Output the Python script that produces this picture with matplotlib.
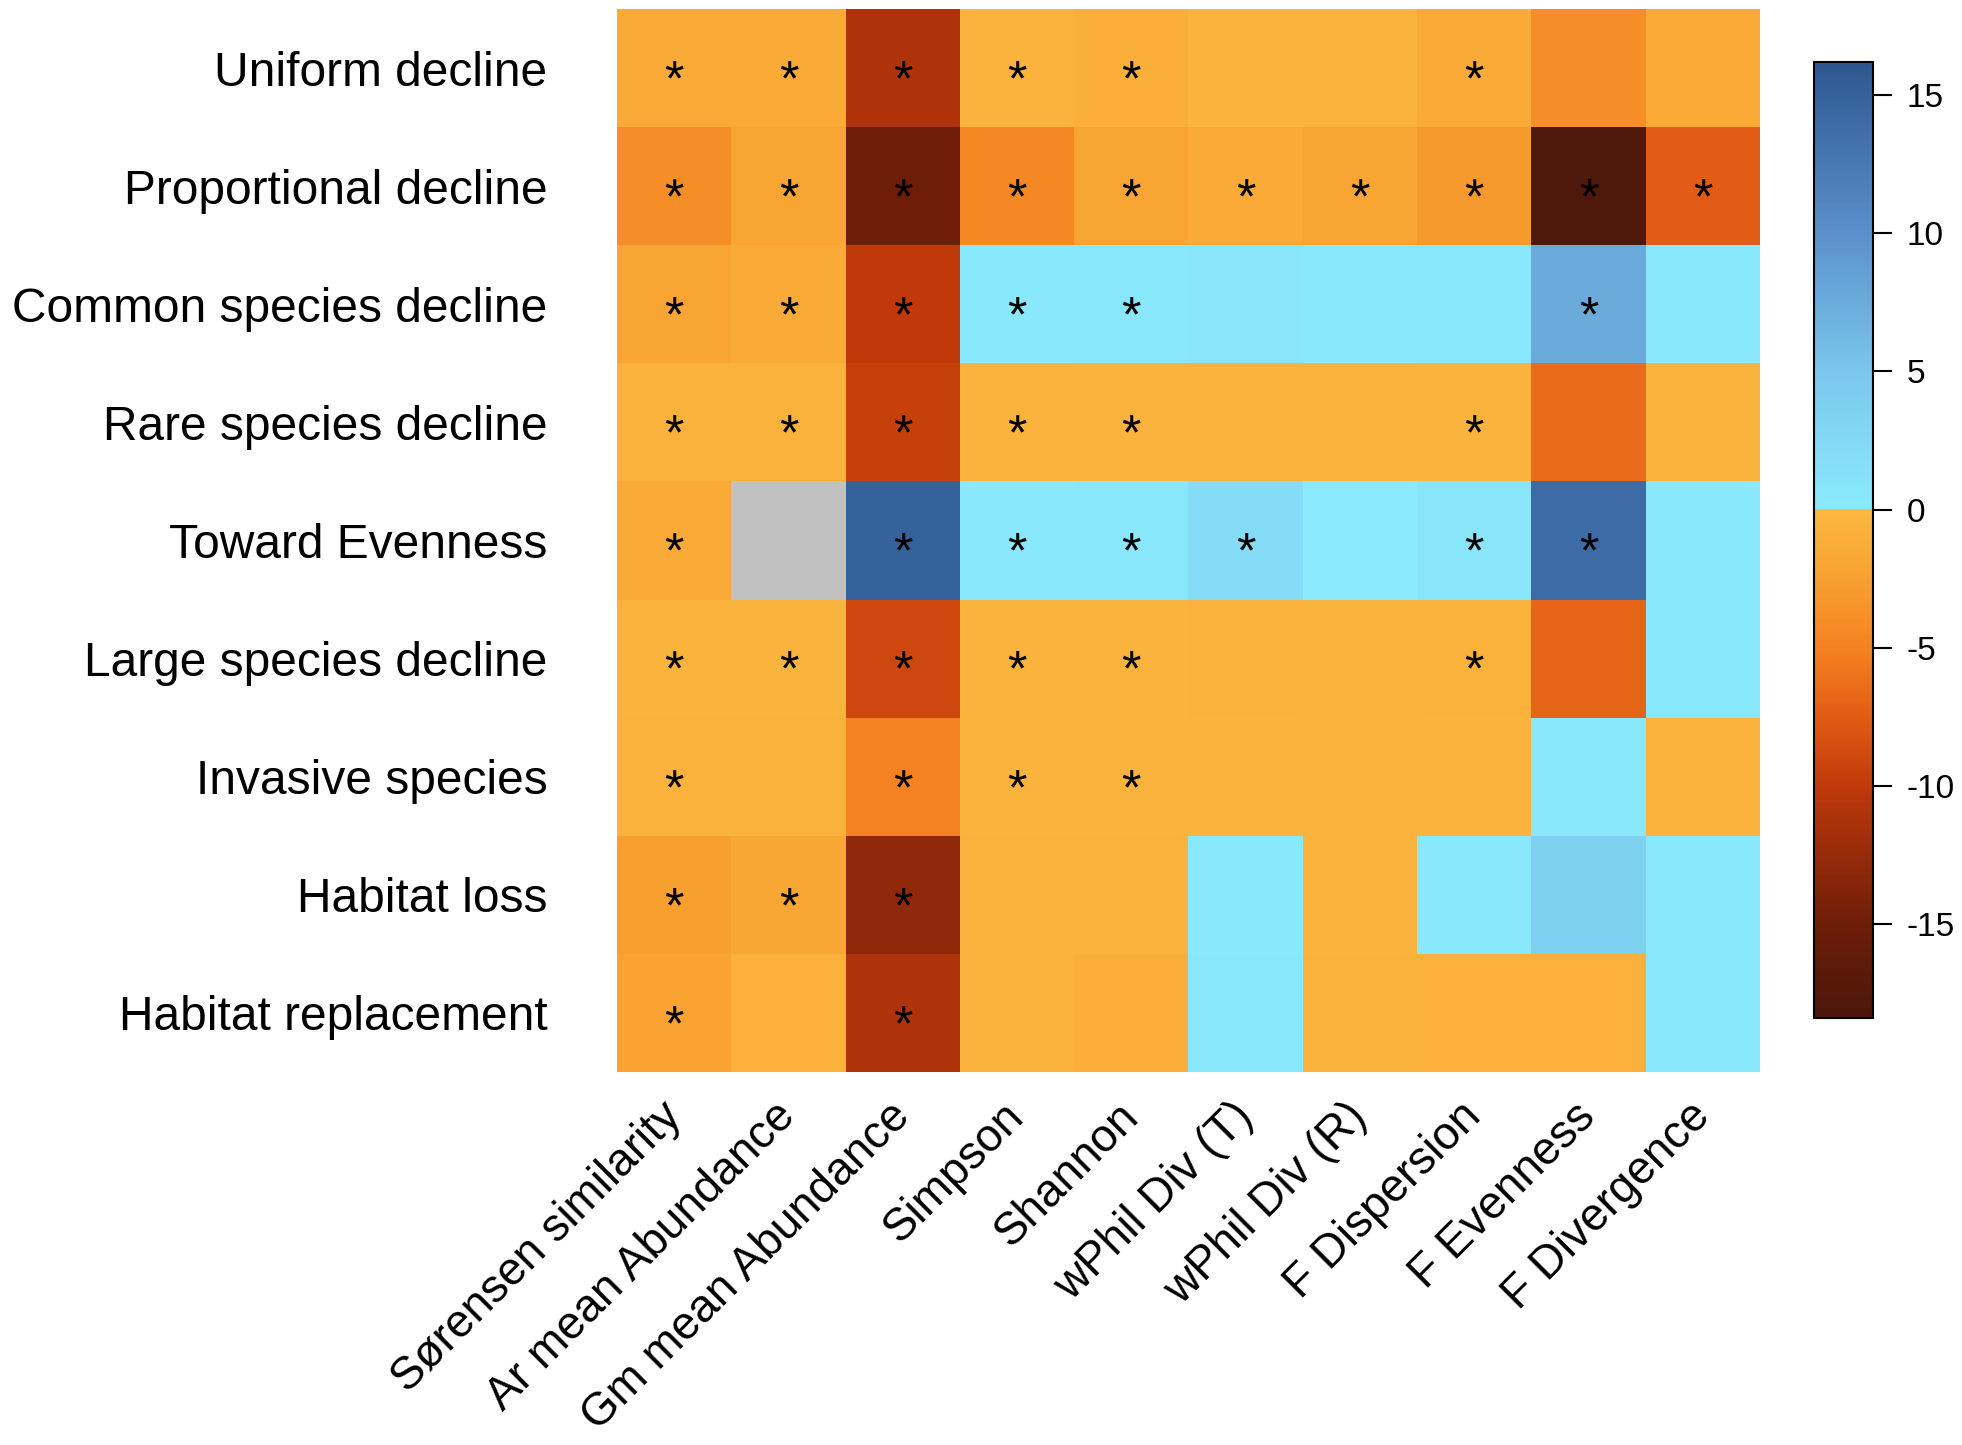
import numpy as np
import matplotlib
matplotlib.use("Agg")
import matplotlib.pyplot as plt
import matplotlib.transforms as mtransforms
from matplotlib.colors import LinearSegmentedColormap, ListedColormap, Normalize

plt.rcParams['font.family'] = ['Liberation Sans', 'DejaVu Sans']
plt.rcParams['axes.unicode_minus'] = False

# scenarios (rows) and metrics (columns)
scenarios = ["Uniform decline", "Proportional decline", "Common species decline",
             "Rare species decline", "Toward Evenness", "Large species decline",
             "Invasive species", "Habitat loss", "Habitat replacement"]
metrics = ["Sørensen similarity", "Ar mean Abundance", "Gm mean Abundance", "Simpson",
           "Shannon", "wPhil Div (T)", "wPhil Div (R)", "F Dispersion", "F Evenness",
           "F Divergence"]

uniform = [-1.5, -1.5, -11.0, -0.5, -1.0, -0.5, -0.5, -1.5, -4.0, -1.5]
proportional = [-4.0, -2.0, -15.0, -4.5, -2.0, -1.5, -2.0, -3.0, -18.0, -7.5]
common = [-2.0, -1.5, -10.0, 0.3, 0.4, 0.8, 0.3, 0.4, 7.5, 0.3]
rare = [-0.7, -0.7, -9.5, -0.5, -0.5, -0.5, -0.5, -0.5, -6.5, -0.5]
evenness = [-1.5, np.nan, 15.0, 0.3, 0.4, 2.0, 0.2, 0.8, 14.0, 0.3]
large = [-0.5, -0.5, -9.0, -0.5, -0.5, -0.6, -0.5, -0.6, -7.0, 0.3]
invasive = [-0.6, -0.6, -5.0, -0.5, -0.5, -0.5, -0.5, -0.5, 0.3, -0.6]
hab_loss = [-2.5, -1.8, -13.0, -0.6, -0.6, 0.3, -0.5, 0.3, 3.5, 0.3]
hab_repl = [-2.2, -0.8, -11.0, -0.7, -1.0, 0.5, -0.6, -0.8, -0.8, 0.3]

# significance flags (1 = star)
sig_uniform = [1, 1, 1, 1, 1, 0, 0, 1, 0, 0]
sig_proportional = [1, 1, 1, 1, 1, 1, 1, 1, 1, 1]
sig_common = [1, 1, 1, 1, 1, 0, 0, 0, 1, 0]
sig_rare = [1, 1, 1, 1, 1, 0, 0, 1, 0, 0]
sig_evenness = [1, 0, 1, 1, 1, 1, 0, 1, 1, 0]
sig_large = [1, 1, 1, 1, 1, 0, 0, 1, 0, 0]
sig_invasive = [1, 0, 1, 1, 1, 0, 0, 0, 0, 0]
sig_hab_loss = [1, 1, 1, 0, 0, 0, 0, 0, 0, 0]
sig_hab_repl = [1, 0, 1, 0, 0, 0, 0, 0, 0, 0]

values = np.array([uniform, proportional, common, rare, evenness, large,
                   invasive, hab_loss, hab_repl])
sig = np.array([sig_uniform, sig_proportional, sig_common, sig_rare, sig_evenness,
                sig_large, sig_invasive, sig_hab_loss, sig_hab_repl])

vmin, vmax = -18.4, 16.2

# two-part colormap with a hard break at zero
neg = LinearSegmentedColormap.from_list("neg", [
    (0.0, "#4a170a"), ((18.4 - 15) / 18.4, "#6e1e08"), ((18.4 - 10) / 18.4, "#c0390a"),
    ((18.4 - 7.5) / 18.4, "#e25c15"), ((18.4 - 5) / 18.4, "#f58220"),
    ((18.4 - 2.5) / 18.4, "#f7a030"), (1.0, "#fbb840")])
pos = LinearSegmentedColormap.from_list("pos", [
    (0.0, "#8aeafc"), (5 / 16.2, "#7ac6ec"), (10 / 16.2, "#5a90cc"), (1.0, "#2e5790")])
n_neg = int(round(1000 * -vmin / (vmax - vmin)))
colors = np.vstack([neg(np.linspace(0, 1, n_neg)), pos(np.linspace(0, 1, 1000 - n_neg))])
cmap = ListedColormap(colors)
cmap.set_bad("#c0c0c0")

fig = plt.figure(figsize=(19.62, 14.45), dpi=100)
ax = fig.add_axes([0.3145, 0.2581, 0.5825, 0.7357])
mesh = ax.pcolormesh(np.ma.masked_invalid(values), cmap=cmap,
                     norm=Normalize(vmin=vmin, vmax=vmax))
ax.set_xlim(0, len(metrics))
ax.set_ylim(len(scenarios), 0)

for i in range(len(scenarios)):
    for j in range(len(metrics)):
        if sig[i, j]:
            ax.text(j + 0.5, i + 0.62, "*", ha="center", va="center", fontsize=36,
                    color="black")

ax.set_xticks(np.arange(len(metrics)) + 0.5)
ax.set_xticklabels(metrics, rotation=45, ha="right", rotation_mode="anchor", fontsize=33)
ax.set_yticks(np.arange(len(scenarios)) + 0.5)
ax.set_yticklabels(scenarios, fontsize=34.5)
ax.tick_params(axis="y", length=0, pad=50)
ax.tick_params(axis="x", length=0, pad=16)
shift = mtransforms.ScaledTranslation(-15 / 100, 0, fig.dpi_scale_trans)
for lab in ax.get_xticklabels():
    lab.set_transform(lab.get_transform() + shift)
for s in ax.spines.values():
    s.set_visible(False)

cax = fig.add_axes([0.9246, 0.2955, 0.030, 0.6616])
cb = fig.colorbar(mesh, cax=cax, ticks=[-15, -10, -5, 0, 5, 10, 15])
cb.ax.tick_params(labelsize=24, length=14, width=1.5, pad=10)
cb.outline.set_linewidth(1.5)

fig.savefig("out.png", dpi=100)
